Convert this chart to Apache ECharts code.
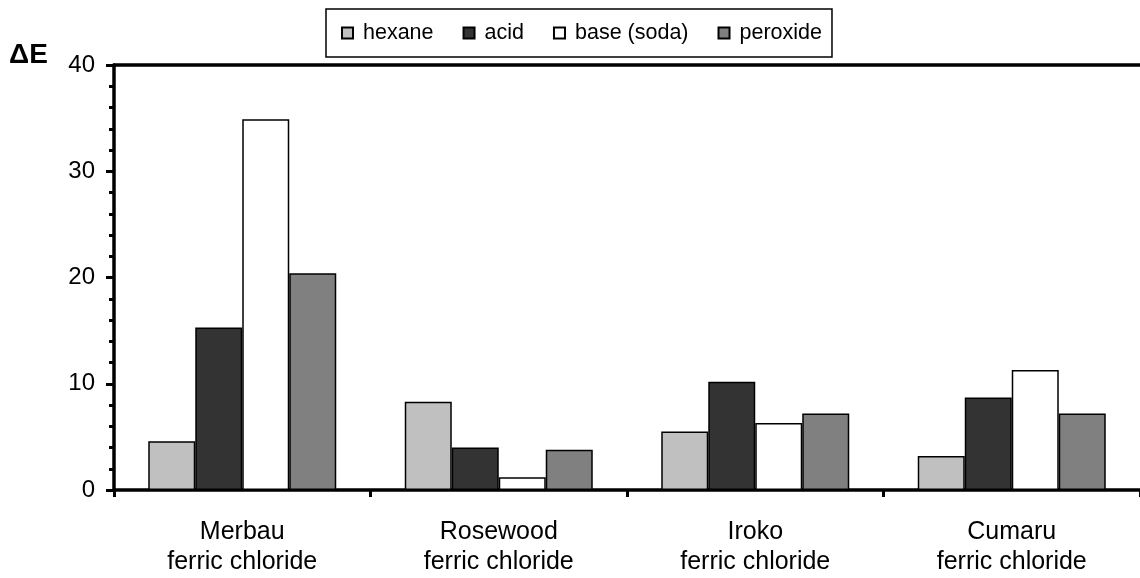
<!DOCTYPE html>
<html>
<head>
<meta charset="utf-8">
<script src="https://cdn.jsdelivr.net/npm/echarts@6/dist/echarts.min.js"></script>
<style>html,body{margin:0;padding:0;background:#fff}#c{width:1140px;height:578px}</style>
</head>
<body>
<div id="c"></div>
<script>
const categories = ['Merbau\nferric chloride', 'Rosewood\nferric chloride', 'Iroko\nferric chloride', 'Cumaru\nferric chloride'];
const seriesNames = ['hexane', 'acid', 'base (soda)', 'peroxide'];
const hexane = [4.6, 8.3, 5.5, 3.2];
const acid = [15.3, 4.0, 10.2, 8.7];
const base = [34.9, 1.2, 6.3, 11.3];
const peroxide = [20.4, 3.8, 7.2, 7.2];
const colors = ['#c0c0c0', '#333333', '#ffffff', '#808080'];
const yTicks = [0, 10, 20, 30, 40];

const font = 'Arial, "Liberation Sans", sans-serif';
const chart = echarts.init(document.getElementById('c'));
const data = [hexane, acid, base, peroxide];
chart.setOption({
  animation: false,
  title: { text: 'ΔE', left: 9, top: 41, padding: 0, textStyle: { fontFamily: font, fontSize: 28, fontWeight: 'bold', color: '#000' } },
  legend: {
    left: 326, top: 9,
    padding: [13, 10, 13, 15],
    borderColor: '#000', borderWidth: 1.5,
    itemWidth: 11, itemHeight: 11, itemGap: 29,
    icon: 'rect',
    textStyle: { fontFamily: font, fontSize: 21.5, color: '#000', padding: [0, 0, 0, 5] },
    data: seriesNames
  },
  grid: { left: 114, right: -3, top: 65, bottom: 88, containLabel: false },
  xAxis: [{
    type: 'category', data: categories,
    axisLine: { lineStyle: { color: '#000', width: 3.5 } },
    axisTick: { show: true, length: 7, lineStyle: { color: '#000', width: 3 } },
    axisLabel: { fontFamily: font, fontSize: 25, color: '#000', lineHeight: 30, margin: 27 }
  }, {
    type: 'category', data: categories, position: 'top',
    axisLine: { lineStyle: { color: '#000', width: 3.5 } },
    axisTick: { show: false }, axisLabel: { show: false }
  }],
  yAxis: {
    type: 'value', min: yTicks[0], max: yTicks[yTicks.length - 1], interval: 10,
    axisLine: { show: true, lineStyle: { color: '#000', width: 3.5 } },
    axisTick: { show: true, length: 8, lineStyle: { color: '#000', width: 3 } },
    minorTick: { show: true, splitNumber: 5, length: 5, lineStyle: { color: '#000', width: 3 } },
    splitLine: { show: false },
    axisLabel: { fontFamily: font, fontSize: 24, color: '#000', margin: 19 }
  },
  series: data.map((d, i) => ({
    name: seriesNames[i], type: 'bar', data: d,
    barWidth: 47, barGap: '0%',
    itemStyle: { color: colors[i], borderColor: '#000', borderWidth: 1.5 }
  }))
});
</script>
</body>
</html>
